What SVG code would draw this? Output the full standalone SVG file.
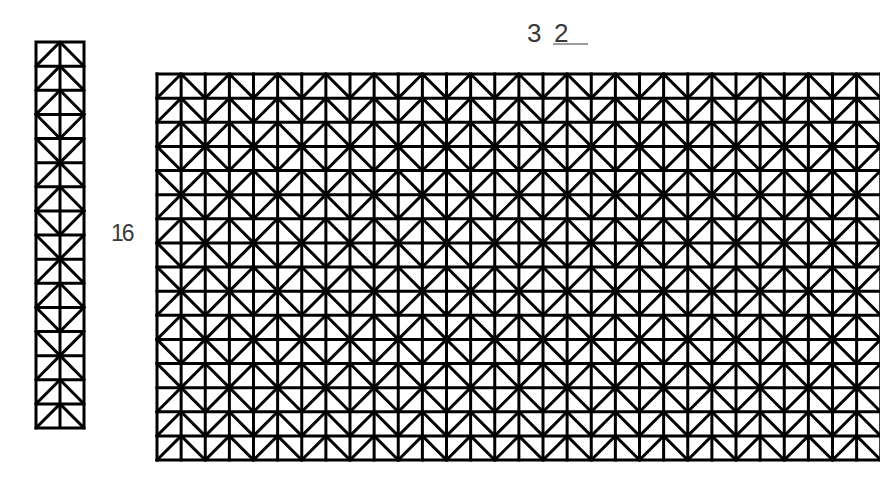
<svg xmlns="http://www.w3.org/2000/svg" xmlns:xlink="http://www.w3.org/1999/xlink" width="880" height="482" viewBox="0 0 880 482">
<style>
.ln{fill:none;stroke:#000;stroke-width:3;stroke-linejoin:round;stroke-linecap:square}
.lbl{font-family:"Liberation Sans",Arial,sans-serif;fill:#3a3a3a}
</style>
<defs>
<path id="gA" class="ln" d="M157 24.125l24.125-24.125 24.125 24.125 24.125-24.125 24.125 24.125 24.125-24.125 24.125 24.125 24.125-24.125 24.125 24.125 24.125-24.125 24.125 24.125 24.125-24.125 24.125 24.125 24.125-24.125 24.125 24.125 24.125-24.125 24.125 24.125 24.125-24.125 24.125 24.125 24.125-24.125 24.125 24.125 24.125-24.125 24.125 24.125 24.125-24.125 24.125 24.125 24.125-24.125 24.125 24.125 24.125-24.125 24.125 24.125 24.125-24.125 24.125 24.125 24.125-24.125 24.125 24.125"/>
<path id="gB" class="ln" d="M157 0l24.125 24.125 24.125-24.125 24.125 24.125 24.125-24.125 24.125 24.125 24.125-24.125 24.125 24.125 24.125-24.125 24.125 24.125 24.125-24.125 24.125 24.125 24.125-24.125 24.125 24.125 24.125-24.125 24.125 24.125 24.125-24.125 24.125 24.125 24.125-24.125 24.125 24.125 24.125-24.125 24.125 24.125 24.125-24.125 24.125 24.125 24.125-24.125 24.125 24.125 24.125-24.125 24.125 24.125 24.125-24.125 24.125 24.125 24.125-24.125 24.125 24.125 24.125-24.125"/>
<path id="sA" class="ln" d="M36 24.125l24-24.125 24 24.125"/>
<path id="sB" class="ln" d="M36 0l24 24.125 24-24.125"/>
</defs>

<g id="strip">
<path class="ln" d="M36 42H84M36 66.125H84M36 90.25H84M36 114.375H84M36 138.5H84M36 162.625H84M36 186.75H84M36 210.875H84M36 235H84M36 259.125H84M36 283.25H84M36 307.375H84M36 331.5H84M36 355.625H84M36 379.75H84M36 403.875H84M36 428H84M36 42V428M60 42V428M84 42V428"/>
<use xlink:href="#sA" href="#sA" transform="translate(0 42)"/>
<use xlink:href="#sA" href="#sA" transform="translate(0 66.125)"/>
<use xlink:href="#sA" href="#sA" transform="translate(0 90.25)"/>
<use xlink:href="#sB" href="#sB" transform="translate(0 114.375)"/>
<use xlink:href="#sB" href="#sB" transform="translate(0 138.5)"/>
<use xlink:href="#sA" href="#sA" transform="translate(0 162.625)"/>
<use xlink:href="#sA" href="#sA" transform="translate(0 186.75)"/>
<use xlink:href="#sB" href="#sB" transform="translate(0 210.875)"/>
<use xlink:href="#sB" href="#sB" transform="translate(0 235)"/>
<use xlink:href="#sA" href="#sA" transform="translate(0 259.125)"/>
<use xlink:href="#sA" href="#sA" transform="translate(0 283.25)"/>
<use xlink:href="#sB" href="#sB" transform="translate(0 307.375)"/>
<use xlink:href="#sB" href="#sB" transform="translate(0 331.5)"/>
<use xlink:href="#sA" href="#sA" transform="translate(0 355.625)"/>
<use xlink:href="#sA" href="#sA" transform="translate(0 379.75)"/>
<use xlink:href="#sA" href="#sA" transform="translate(0 403.875)"/>
</g>

<g id="grid">
<path class="ln" d="M157 74H929M157 98.125H929M157 122.25H929M157 146.375H929M157 170.5H929M157 194.625H929M157 218.75H929M157 242.875H929M157 267H929M157 291.125H929M157 315.25H929M157 339.375H929M157 363.5H929M157 387.625H929M157 411.75H929M157 435.875H929M157 460H929"/>
<path class="ln" d="M157 74V460M181.125 74V460M205.25 74V460M229.375 74V460M253.5 74V460M277.625 74V460M301.75 74V460M325.875 74V460M350 74V460M374.125 74V460M398.25 74V460M422.375 74V460M446.5 74V460M470.625 74V460M494.75 74V460M518.875 74V460M543 74V460M567.125 74V460M591.25 74V460M615.375 74V460M639.5 74V460M663.625 74V460M687.75 74V460M711.875 74V460M736 74V460M760.125 74V460M784.25 74V460M808.375 74V460M832.5 74V460M856.625 74V460M880.75 74V460M904.875 74V460M929 74V460"/>
<use xlink:href="#gA" href="#gA" transform="translate(0 74)"/>
<use xlink:href="#gA" href="#gA" transform="translate(0 98.125)"/>
<use xlink:href="#gA" href="#gA" transform="translate(0 122.25)"/>
<use xlink:href="#gB" href="#gB" transform="translate(0 146.375)"/>
<use xlink:href="#gB" href="#gB" transform="translate(0 170.5)"/>
<use xlink:href="#gA" href="#gA" transform="translate(0 194.625)"/>
<use xlink:href="#gA" href="#gA" transform="translate(0 218.75)"/>
<use xlink:href="#gB" href="#gB" transform="translate(0 242.875)"/>
<use xlink:href="#gB" href="#gB" transform="translate(0 267)"/>
<use xlink:href="#gA" href="#gA" transform="translate(0 291.125)"/>
<use xlink:href="#gA" href="#gA" transform="translate(0 315.25)"/>
<use xlink:href="#gB" href="#gB" transform="translate(0 339.375)"/>
<use xlink:href="#gB" href="#gB" transform="translate(0 363.5)"/>
<use xlink:href="#gA" href="#gA" transform="translate(0 387.625)"/>
<use xlink:href="#gA" href="#gA" transform="translate(0 411.75)"/>
<use xlink:href="#gA" href="#gA" transform="translate(0 435.875)"/>
</g>

<g id="labels">
<text class="lbl" x="527" y="42" font-size="26">3</text>
<text class="lbl" x="554" y="42" font-size="26">2</text>
<line x1="553" y1="44" x2="588" y2="44" stroke="#3a3a3a" stroke-width="1"/>
<text class="lbl" x="111" y="241" font-size="23" letter-spacing="-2">16</text>
</g>
</svg>
